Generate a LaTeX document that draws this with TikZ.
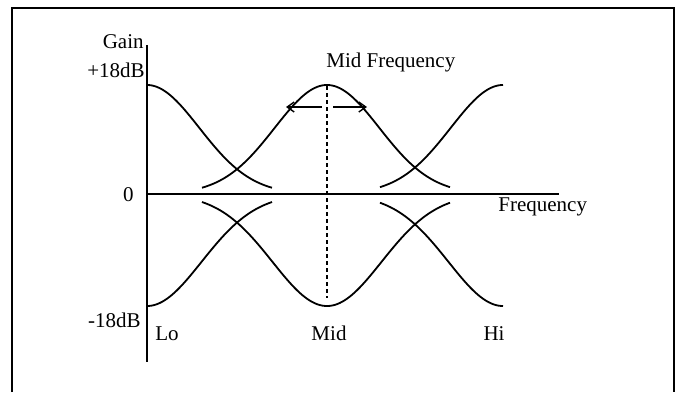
\documentclass[tikz,border=0pt]{standalone}
\usepackage{fontspec}
\setmainfont{Liberation Serif}
\usetikzlibrary{arrows.meta}
\begin{document}
\begin{tikzpicture}[x=0.5pt,y=-0.5pt,
  lbl/.style={inner sep=0pt,font=\fontsize{10.5}{12}\selectfont},
  frameline/.style={line width=1pt},
  axisline/.style={line width=1pt},
  curve/.style={line width=0.9pt,smooth},
  guide/.style={line width=0.55pt,dash pattern=on 2pt off 1.5pt},
  widen/.style={line width=0.7pt,-{Straight Barb[length=3.5pt,width=5pt]}}]
\useasboundingbox (0,0) rectangle (680,392);
% frame (bottom edge outside the picture)
\draw[frameline] (12,392) -- (12,8) -- (674,8) -- (674,392);
% axes
\coordinate (ytop) at (147,45);
\coordinate (ybot) at (147,362);
\coordinate (x0) at (147,194);
\coordinate (xend) at (559,194);
\draw[axisline] (ytop) -- (ybot);
\draw[axisline] (x0) -- (xend);
% boost curves (upper)
\draw[curve] plot[domain=0:125,samples=60] ({147+\x},{194-109*exp(-(\x/74)*(\x/74))});
\draw[curve] plot[domain=-125:123,samples=100] ({327+\x},{194-109*exp(-(\x/74)*(\x/74))});
\draw[curve] plot[domain=-123:0,samples=60] ({503+\x},{194-109*exp(-(\x/74)*(\x/74))});
% cut curves (lower)
\draw[curve] plot[domain=0:125,samples=60] ({147+\x},{194+112*exp(-(\x/77)*(\x/77))});
\draw[curve] plot[domain=-125:123,samples=100] ({327+\x},{194+112*exp(-(\x/77)*(\x/77))});
\draw[curve] plot[domain=-123:0,samples=60] ({503+\x},{194+112*exp(-(\x/77)*(\x/77))});
% mid frequency guide and width arrows
\coordinate (mtop) at (327,86);
\coordinate (mbot) at (327,298);
\draw[guide] (mtop) -- (mbot);
\coordinate (al0) at (322,107);
\coordinate (al1) at (286,107);
\coordinate (ar0) at (333,107);
\coordinate (ar1) at (367,107);
\draw[widen] (al0) -- (al1);
\draw[widen] (ar0) -- (ar1);
% labels
\node[lbl,anchor=base east] (gain) at (144,48) {Gain};
\node[lbl,anchor=base east] (plus) at (145,77) {+18dB};
\node[lbl,anchor=base east] (zero) at (134,201) {0};
\node[lbl,anchor=base east] (minus) at (141,327) {-18dB};
\node[lbl,anchor=base west] (lo) at (155,340) {Lo};
\node[lbl,anchor=base] (mid) at (329,340) {Mid};
\node[lbl,anchor=base] (hi) at (494,340) {Hi};
\node[lbl,anchor=base west] (midf) at (326,67) {Mid Frequency};
\node[lbl,anchor=base west] (freq) at (498,211) {Frequency};
\end{tikzpicture}
\end{document}
